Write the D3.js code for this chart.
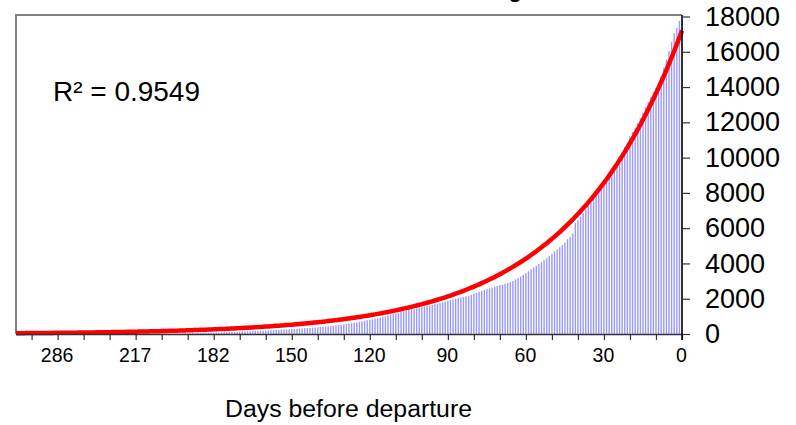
<!DOCTYPE html>
<html>
<head>
<meta charset="utf-8">
<script src="https://cdn.jsdelivr.net/npm/d3@7"></script>
<style>
  html, body { margin: 0; padding: 0; background: #fff; }
  svg { display: block; font-family: "Liberation Sans", Arial, sans-serif; }
</style>
</head>
<body>
<svg id="chart" width="796" height="425"></svg>
<script>
// Categories: days before departure, listed from departure (rightmost) outwards
const days = [
  0,1,2,3,4,5,6,7,8,9,10,11,12,13,14,15,16,17,18,19,20,21,22,23,24,25,26,27,28,29,
  30,31,32,33,34,35,36,37,38,39,40,41,42,43,44,45,46,47,48,49,50,51,52,53,54,55,56,57,58,59,
  60,61,62,63,64,65,66,67,68,69,70,71,72,73,74,75,76,77,78,79,80,81,82,83,84,85,86,87,88,89,
  90,91,92,93,94,95,96,97,98,99,100,101,102,103,104,105,106,107,108,109,110,111,112,113,114,115,116,117,118,119,
  120,121,122,123,124,125,126,127,128,129,130,131,132,133,134,135,136,137,138,139,140,141,142,143,144,145,146,147,148,149,
  150,151,152,153,154,155,156,157,158,159,161,162,163,164,165,166,167,168,169,170,172,173,174,175,176,177,178,179,180,181,
  182,183,184,185,186,188,189,190,191,192,193,195,196,197,198,199,200,202,203,204,205,207,208,209,210,211,213,214,215,216,
  217,219,221,224,226,228,231,233,235,238,240,242,245,247,249,252,254,256,259,261,263,266,268,270,273,275,277,280,282,284,
  286,289,291,294,297,300,302,305,308,311,314,317,320,324,328,333,340
];
// Bookings per category (same order as days)
const bookings = [
  17900,17750,17350,17050,16550,16050,15550,15100,14600,14250,13950,13700,13450,13150,12850,12550,12250,11950,11700,11450,
  11200,10850,10600,10300,10050,9700,9450,9200,8950,8700,8450,8250,8050,7850,7650,7450,7250,7050,6850,6650,
  6450,6300,5700,5500,5380,5180,5050,4920,4800,4680,4540,4420,4300,4180,4070,3970,3870,3770,3680,3560,
  3450,3350,3260,3180,3100,3020,2960,2900,2850,2800,2770,2720,2680,2630,2590,2540,2490,2440,2390,2340,
  2290,2220,2170,2130,2100,2070,2040,2000,1960,1920,1880,1840,1800,1760,1720,1690,1650,1620,1590,1560,
  1530,1500,1460,1430,1400,1360,1320,1280,1250,1210,1170,1130,1090,1050,1010,970,930,900,870,840,
  810,780,750,720,690,665,640,615,590,570,550,530,510,490,470,455,440,425,410,395,
  380,370,360,350,340,330,320,310,300,290,280,270,262,254,246,238,230,222,214,206,
  198,190,182,175,168,161,154,147,140,133,126,120,114,108,102,97,92,87,82,78,
  74,70,66,63,60,57,54,51,48,46,44,42,40,38,36,34,32,31,30,29,
  28,27,26,25,24,23,22,21,20,19,18,17,17,16,16,15,15,14,14,13,
  13,12,12,11,11,10,10,10,9,9,9,8,8,8,7,7,7,6,6,6,
  6,5,5,5,5,4,4,4,4,3,3,3,3,2,2,2,2
];
const yTicks = [0,2000,4000,6000,8000,10000,12000,14000,16000,18000];
// exponential trend (per category step from departure): value = a * exp(b * k)
const trendCoef = [17200, -0.0232];
const r2Label = "R\u00B2 = 0.9549";
const xTitle = "Days before departure";
const chartTitle = "Cumulative booking";

const svg = d3.select("#chart");
const L = 16, R = 682, T = 15, B = 334;

const displayDays = days.slice().reverse();
const x = d3.scalePoint().domain(displayDays).range([L, R]);
const y = d3.scaleLinear().domain([0, 18000]).range([B, 16.5]);

// title (mostly outside the view, as in the reference)
svg.append("text").attr("x", 522).attr("y", -3).attr("text-anchor", "end")
  .attr("font-size", 22).attr("font-weight", "bold").text(chartTitle);

// bars
const data = days.map((d, k) => ({ day: d, k: k, v: bookings[k] }));
svg.append("g").selectAll("rect").data(data).join("rect")
  .attr("x", d => x(d.day) - 0.7)
  .attr("width", 1.4)
  .attr("y", d => y(d.v))
  .attr("height", d => B - y(d.v))
  .attr("fill", "#9999ff");

// frame (left & top, gray)
svg.append("path").attr("d", `M${L},${B} V${T} H${R}`)
  .attr("fill", "none").attr("stroke", "#808080").attr("stroke-width", 2);

// trend line
const line = d3.line()
  .x(d => x(d.day))
  .y(d => y(trendCoef[0] * Math.exp(trendCoef[1] * d.k)))
  .curve(d3.curveMonotoneX);
svg.append("path").datum(data).attr("d", line)
  .attr("fill", "none").attr("stroke", "#ff0000").attr("stroke-width", 4.5)
  .attr("stroke-linejoin", "round");

// x axis
const tickDays = days.filter((d, k) => k % 10 === 0 && k <= 250);
const labelSet = new Set(days.filter((d, k) => k % 30 === 0 && k <= 240));
const xAxis = svg.append("g").attr("transform", `translate(0,${B})`)
  .call(d3.axisBottom(x).tickValues(tickDays)
    .tickFormat(d => labelSet.has(d) ? d : "")
    .tickSize(6).tickSizeOuter(0).tickPadding(8));
xAxis.select(".domain").attr("stroke", "#333").attr("stroke-width", 1.3);
xAxis.selectAll(".tick line").attr("stroke", "#333").attr("stroke-width", 1.2);
xAxis.selectAll(".tick text").attr("font-size", 19.5).attr("fill", "#000")
  .attr("font-family", "Liberation Sans, Arial, sans-serif").attr("dx", -1);

// y axis (right)
const yAxis = svg.append("g").attr("transform", `translate(${R},0)`)
  .call(d3.axisRight(y).tickValues(yTicks).tickFormat(d3.format("d"))
    .tickSize(8).tickSizeOuter(0).tickPadding(15));
yAxis.select(".domain").attr("stroke", "#000").attr("stroke-width", 1.5)
  .attr("d", `M0,${T}V${B + 6}`);
yAxis.selectAll(".tick line").attr("stroke", "#333").attr("stroke-width", 1.2);
yAxis.selectAll(".tick text").attr("font-size", 27).attr("fill", "#000")
  .attr("font-family", "Liberation Sans, Arial, sans-serif");

// R² annotation
svg.append("text").attr("x", 53).attr("y", 101).attr("font-size", 27)
  .attr("textLength", 147).attr("lengthAdjust", "spacingAndGlyphs").text(r2Label);

// x axis title
svg.append("text").attr("x", 225).attr("y", 417).attr("font-size", 23.5)
  .attr("textLength", 247).attr("lengthAdjust", "spacingAndGlyphs").text(xTitle);
</script>
</body>
</html>
